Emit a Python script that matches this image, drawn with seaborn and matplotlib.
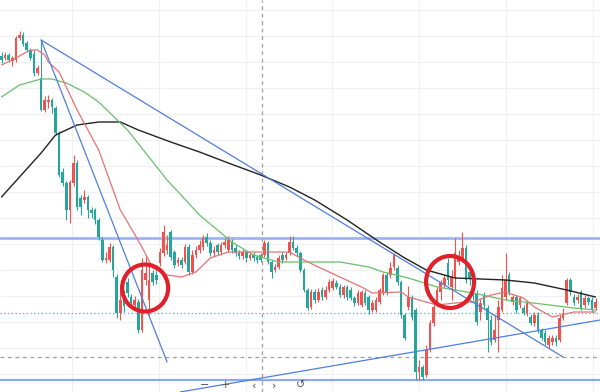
import numpy as np
import pandas as pd
import matplotlib
matplotlib.use('Agg')
import matplotlib.pyplot as plt
from matplotlib.patches import Ellipse
import seaborn as sns

# OHLC candles (arbitrary price units)
opens = [344, 342, 345, 339, 340, 362, 365, 357, 350, 346, 327, 322,
         290, 298, 300, 292, 267, 228, 217, 190, 217, 237, 202, 200, 203, 190, 190, 180,
         160, 140, 140, 153, 123, 87, 100, 118, 103, 95, 98, 70, 120, 100, 127, 125, 137,
         147, 150, 168, 148, 137, 140, 138, 153, 128, 145, 150, 153, 163, 157, 147, 155, 148, 155, 150, 158, 152, 147, 144, 148, 142, 145, 143, 145,
         145, 157, 138, 130, 133, 145, 142, 147, 158, 152, 147, 130, 110, 93, 108, 100, 110, 103, 110, 112, 117,
         113, 105, 113, 110, 102, 97, 95, 107, 103, 90, 90, 98, 107, 125, 125, 133, 132, 118,
         85, 93, 102, 90, 28, 33, 25, 50, 77, 97, 108, 115, 137, 113, 122, 138, 140, 152,
         128, 120, 107, 88, 105, 92, 80, 60, 80, 90, 103, 125, 98, 103, 95, 92, 87, 83, 77,
         85, 70, 67, 55, 58, 62, 60, 82, 97, 120, 103, 100, 108, 95, 102, 100, 92]
closes = [340, 345, 340, 342, 362, 365, 356, 350, 342, 327, 332, 290,
          300, 300, 293, 267, 225, 217, 190, 218, 237, 193, 193, 203, 190, 187, 180, 163,
          140, 142, 153, 130, 87, 100, 94, 107, 97, 100, 70, 130, 127, 120, 118, 120, 148,
          168, 155, 143, 135, 140, 135, 153, 128, 145, 150, 155, 162, 157, 147, 150, 148, 155, 158, 160, 150, 147, 144, 148, 142, 145, 142, 140, 140,
          157, 138, 128, 133, 142, 140, 145, 158, 152, 147, 130, 110, 92, 108, 100, 108, 103, 110, 118, 119, 113,
          105, 113, 103, 102, 97, 107, 108, 97, 90, 97, 100, 110, 125, 107, 132, 145, 118, 85,
          62, 103, 83, 28, 33, 23, 50, 77, 93, 110, 118, 122, 120, 123, 147, 142, 152, 120,
          122, 107, 78, 97, 95, 80, 58, 70, 93, 112, 120, 108, 103, 90, 102, 87, 97, 77, 85,
          70, 62, 58, 62, 62, 58, 82, 87, 120, 108, 97, 103, 92, 102, 98, 90, 98]
highs = [348, 348, 347, 344, 364, 369, 368, 359, 352, 350, 335, 360,
         304, 305, 302, 294, 269, 232, 219, 220, 245, 240, 205, 210, 205, 193, 192, 182,
         163, 148, 157, 155, 126, 115, 110, 122, 106, 104, 101, 142, 145, 138, 130, 130, 152,
         175, 165, 170, 150, 143, 143, 156, 156, 150, 154, 160, 165, 167, 160, 154, 157, 158, 162, 164, 161, 155, 150, 151, 150, 147, 148, 145, 147,
         160, 159, 140, 136, 145, 148, 148, 164, 164, 155, 149, 132, 112, 111, 111, 112, 113, 114, 121, 122, 120,
         116, 115, 115, 113, 104, 110, 110, 110, 105, 100, 103, 112, 127, 128, 138, 147, 135, 120,
         87, 114, 105, 92, 40, 35, 55, 80, 97, 113, 120, 125, 142, 130, 162, 150, 168, 155,
         132, 124, 110, 102, 108, 95, 85, 85, 100, 125, 147, 128, 105, 105, 104, 95, 100, 86, 88,
         88, 72, 70, 65, 65, 65, 85, 92, 122, 122, 106, 106, 110, 105, 104, 103, 102]
lows = [337, 340, 338, 334, 338, 360, 354, 348, 340, 324, 325, 289,
        288, 292, 287, 265, 223, 214, 180, 177, 214, 190, 185, 197, 182, 182, 176, 160,
        138, 137, 138, 123, 82, 80, 88, 103, 92, 90, 67, 68, 115, 85, 115, 116, 134,
        144, 146, 140, 132, 134, 132, 136, 125, 126, 142, 147, 150, 154, 144, 144, 145, 145, 152, 148, 147, 144, 141, 141, 138, 140, 139, 137, 138,
        143, 136, 122, 128, 131, 137, 140, 145, 150, 144, 128, 108, 90, 91, 97, 98, 100, 101, 108, 110, 111,
        103, 102, 100, 100, 94, 95, 93, 95, 86, 88, 88, 96, 105, 105, 122, 130, 115, 82,
        60, 90, 80, 20, 20, 20, 23, 48, 74, 94, 100, 112, 115, 100, 110, 135, 138, 117,
        115, 100, 75, 80, 92, 48, 55, 58, 48, 88, 100, 105, 95, 87, 92, 85, 84, 75, 74,
        67, 60, 55, 52, 55, 54, 58, 80, 95, 105, 95, 97, 90, 92, 95, 88, 90]

# moving averages (candle index, value), read at a few points
ma_fast_idx = [0, 4, 8, 10, 12, 13, 16, 18, 21, 24, 27, 30, 33, 35, 39, 42, 46, 50, 54, 58, 63, 72, 80, 84,
               88, 94, 100, 103, 111, 113, 121, 126, 131, 136, 140, 145, 148, 153, 159, 165]
ma_fast_val = [335, 342, 350, 350, 345, 338, 328, 313, 290, 270, 250, 220, 190, 178, 153, 132, 125, 123, 128, 142,
               148, 148, 148, 140, 133, 123, 113, 107, 108, 103, 95, 97, 98, 105, 108, 102, 93, 83, 88, 88]
ma_mid_idx = [0, 5, 11, 14, 18, 23, 27, 35, 46, 55, 64, 70, 77, 84, 94, 102, 106, 113, 121, 126, 131, 140, 150, 159, 165]
ma_mid_val = [303, 315, 321, 321, 317, 308, 298, 270, 220, 185, 158, 145, 138, 138, 138, 133, 128, 122, 113, 110,
              107, 100, 96, 92, 90]
ma_slow_idx = [0, 5, 11, 15, 21, 27, 33, 38, 47, 55, 63, 72, 80, 87, 96, 105, 112, 118, 126, 140, 148, 157, 165]
ma_slow_val = [203, 223, 247, 265, 275, 278, 278, 270, 258, 248, 237, 225, 213, 200, 180, 158, 142, 130, 122, 120,
               117, 110, 103]

# drawings on the chart
trend_long = ([11, 156], [360, 43])
trend_steep = ([11, 46], [360, 38])
trend_rise = ([49.6, 166.3], [8, 80])
resistance = 162
support = 20
dotted_level = 87
dashed_level = 43
crosshair_x = 72.4
circles = [(39.9, 112, 23, 23.5), (124.6, 118, 24, 26)]  # center idx, value, radius in px (x, y)
toolbar_icons = ['−', '+', '‹', '›', '↺']

UP = '#ef5350'
DOWN = '#26a69a'

sns.set_style('white')

df = pd.DataFrame({'open': opens, 'high': highs, 'low': lows, 'close': closes})
df['idx'] = np.arange(len(df))
df['color'] = np.where(df['close'] > df['open'], UP, DOWN)

fig = plt.figure(figsize=(6, 3.92), dpi=100)
ax = fig.add_axes([0, 0, 1, 1])
ax.set_xlim(-0.42, 166.25)
ax.set_ylim(8, 400)

# grid
ax.set_xticks(np.arange(19.6, 166, 24.1))
ax.set_yticks(np.arange(26.5, 400, 26))
ax.grid(True, color='#eef0f4', lw=0.8)
ax.tick_params(length=0, labelbottom=False, labelleft=False)
for s in ax.spines.values():
    s.set_visible(False)

# level lines
ax.axhline(resistance, color='#9fb5f2', lw=2.0, zorder=1)
ax.axhline(support, color='#8fa8ee', lw=1.6, zorder=1)
ax.axhline(dotted_level, color='#4db6ac', lw=0.9, ls=(0, (1, 2)), zorder=1)
ax.axhline(dashed_level, color='#9e9e9e', lw=0.9, ls=(0, (3, 3)), zorder=1)
ax.axvline(crosshair_x, color='#9e9e9e', lw=0.9, ls=(0, (3, 3)), zorder=1)

# candles
body = (df['close'] - df['open']).abs().clip(lower=0.8)
bottom = df[['open', 'close']].min(axis=1)
ax.vlines(df['idx'], df['low'], df['high'], colors=df['color'], lw=0.8, zorder=3)
ax.bar(df['idx'], body, bottom=bottom, width=0.72, color=df['color'], linewidth=0, zorder=4)

# moving averages
sns.lineplot(x=ma_slow_idx, y=ma_slow_val, color='#222222', lw=1.0, ax=ax, zorder=5)
sns.lineplot(x=ma_mid_idx, y=ma_mid_val, color='#6abf69', lw=0.9, ax=ax, zorder=5)
sns.lineplot(x=ma_fast_idx, y=ma_fast_val, color='#e57373', lw=0.9, ax=ax, zorder=5)

# trend lines
for xs, ys in (trend_long, trend_steep, trend_rise):
    ax.plot(xs, ys, color='#4f7fdc', lw=0.9, zorder=6)

# red circles
px_per_idx = 600 / (166.25 + 0.42)
for cx, cy, rx, ry in circles:
    ax.add_patch(Ellipse((cx, cy), width=2 * rx / px_per_idx, height=2 * ry,
                         fill=False, ec='#e0212b', lw=3.0, zorder=7))

# bottom toolbar
for label, x in zip(toolbar_icons, [205, 225, 253, 274, 301]):
    fig.text(x / 600, 0.004, label, ha='center', va='bottom', fontsize=8, color='#555555')

fig.savefig('out.png', dpi=100)
